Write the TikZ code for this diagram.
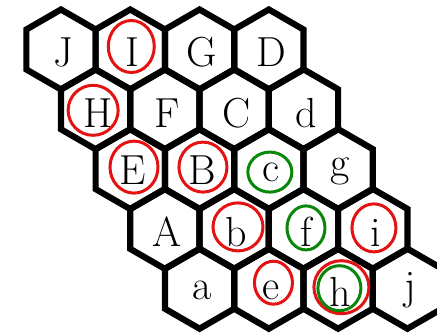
\documentclass[tikz,border=0pt]{standalone}
\usepackage{tikz}
\usetikzlibrary{calc}
\definecolor{mred}{RGB}{228,18,18}
\definecolor{mgreen}{RGB}{10,135,10}
\tikzset{
  hexline/.style={line width=6.2pt, line join=miter, draw=black},
  letter/.style={anchor=base, inner sep=0pt, font=\fontsize{42}{42}\selectfont},
  redring/.style={draw=mred, line width=3pt},
  greenring/.style={draw=mgreen, line width=3pt}
}
\begin{document}
\begin{tikzpicture}[x=1pt,y=-1pt]
\useasboundingbox (0,0) rectangle (437,334);
\clip (0,0) rectangle (437,334);
\fill[white] (0,0) rectangle (437,334);
\foreach \row/\labels in {0/{J/67,I/67,G/67,D/67},1/{H/128,F/128,C/128,d/128},2/{E/185,B/185,c/182,g/177},3/{A/247,b/247,f/247,i/247},4/{a/299,e/300,h/306,j/300}}{
  \foreach \lab/\bl [count=\col from 0] in \labels {
    \coordinate (p\row\col) at ({61+34.64*\row+69.28*\col},{49.5+59.8*\row});
    \draw[hexline] (p\row\col) +(90:40) -- +(150:40) -- +(210:40) -- +(270:40) -- +(330:40) -- +(30:40) -- cycle;
    \node[letter] (n\row\col) at ($(p\row\col |- 0,\bl)+(2.5,0)$) {\lab};
  }
}
% red rings
\draw[redring] ($(p01)+(1,-3)$) ellipse [x radius=23, y radius=26];
\draw[redring] ($(p10)+(-2.5,1)$) ellipse [x radius=25, y radius=25];
\draw[redring] ($(p20)+(3.7,-2)$) ellipse [x radius=24, y radius=26];
\draw[redring] ($(p21)+(3.4,-2)$) ellipse [x radius=24, y radius=25];
\draw[redring] ($(p31)+(3.8,-2)$) ellipse [x radius=25, y radius=24];
\draw[redring] ($(p33)+(1.2,-1)$) ellipse [x radius=22, y radius=24];
\draw[redring] ($(p41)+(4.6,-6)$) ellipse [x radius=19, y radius=21.5];
\draw[redring] ($(p42)+(3.3,-1.5)$) ellipse [x radius=27.5, y radius=26.5];
% green rings
\draw[greenring] ($(p42)+(1.3,-0.5)$) ellipse [x radius=21.5, y radius=22.5];
\draw[greenring] ($(p22)+(1,3)$) ellipse [x radius=22, y radius=20];
\draw[greenring] ($(p32)+(2.5,-1)$) ellipse [x radius=19, y radius=22];
\end{tikzpicture}
\end{document}
